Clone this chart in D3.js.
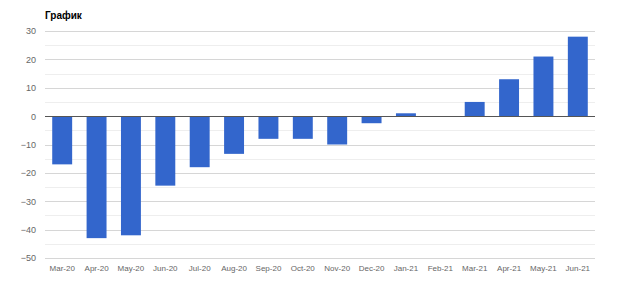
<!DOCTYPE html>
<meta charset="utf-8">
<head>
  <title>График</title>
</head>

<style>
body { margin: 0; background: white; }
text {
  font-family: Arial, "Liberation Sans", sans-serif;
}
.tick text { fill: #666; }
.title { font-size: 10px; font-weight: bold; fill: #000; }
</style>

<body>
  <svg width="620" height="285"></svg>

  <script src="https://cdnjs.cloudflare.com/ajax/libs/d3/7.8.5/d3.min.js"></script>
  <script>
var months = ['Mar-20', 'Apr-20', 'May-20', 'Jun-20', 'Jul-20', 'Aug-20', 'Sep-20', 'Oct-20',
  'Nov-20', 'Dec-20', 'Jan-21', 'Feb-21', 'Mar-21', 'Apr-21', 'May-21', 'Jun-21'];
var values = [-17, -43, -42, -24.5, -18, -13.3, -8, -8, -10, -2.5, 1, 0, 5, 13, 21, 28];
var yTicks = [30, 20, 10, 0, -10, -20, -30, -40, -50];

var svg = d3.select('svg');
var plotLeft = 45, plotRight = 595, plotTop = 31, plotBottom = 258;

var x = d3.scaleBand()
  .domain(months)
  .range([plotLeft, plotRight])
  .paddingInner(0.42)
  .paddingOuter(0.21);

var y = d3.scaleLinear()
  .domain([-50, 30])
  .range([plotBottom, plotTop]);

// minor gridlines
svg.append('g')
  .selectAll('line')
  .data(d3.range(-45, 30, 10))
  .enter()
  .append('line')
  .attr('x1', plotLeft).attr('x2', plotRight)
  .attr('y1', function(d) { return Math.round(y(d)) + 0.5; })
  .attr('y2', function(d) { return Math.round(y(d)) + 0.5; })
  .attr('stroke', '#eeeeee');

// major gridlines
svg.append('g')
  .selectAll('line')
  .data(yTicks.filter(function(d) { return d !== 0; }))
  .enter()
  .append('line')
  .attr('x1', plotLeft).attr('x2', plotRight)
  .attr('y1', function(d) { return Math.round(y(d)) + 0.5; })
  .attr('y2', function(d) { return Math.round(y(d)) + 0.5; })
  .attr('stroke', '#d6d6d6');

var yAxis = svg.append('g')
  .attr('transform', 'translate(' + (plotLeft - 9) + ',0)')
  .style('font-size', '9px')
  .call(d3.axisLeft(y).tickValues(yTicks).tickSize(0).tickPadding(0));
yAxis.select('.domain').remove();

var xAxis = svg.append('g')
  .attr('transform', 'translate(0,' + (plotBottom + 4) + ')')
  .style('font-size', '8px')
  .call(d3.axisBottom(x).tickSize(0).tickPadding(3));
xAxis.select('.domain').remove();

svg.append('g')
  .selectAll('rect')
  .data(values)
  .enter()
  .append('rect')
  .attr('x', function(d, i) { return x(months[i]); })
  .attr('width', x.bandwidth())
  .attr('y', function(d) { return y(Math.max(0, d)); })
  .attr('height', function(d) { return Math.abs(y(d) - y(0)); })
  .attr('fill', '#3366cc');

// zero line
svg.append('line')
  .attr('x1', plotLeft).attr('x2', plotRight)
  .attr('y1', Math.round(y(0)) + 0.5).attr('y2', Math.round(y(0)) + 0.5)
  .attr('stroke', '#555');

svg.append('text')
  .attr('class', 'title')
  .attr('x', plotLeft)
  .attr('y', 19)
  .text('График');
  </script>
</body>
</html>
